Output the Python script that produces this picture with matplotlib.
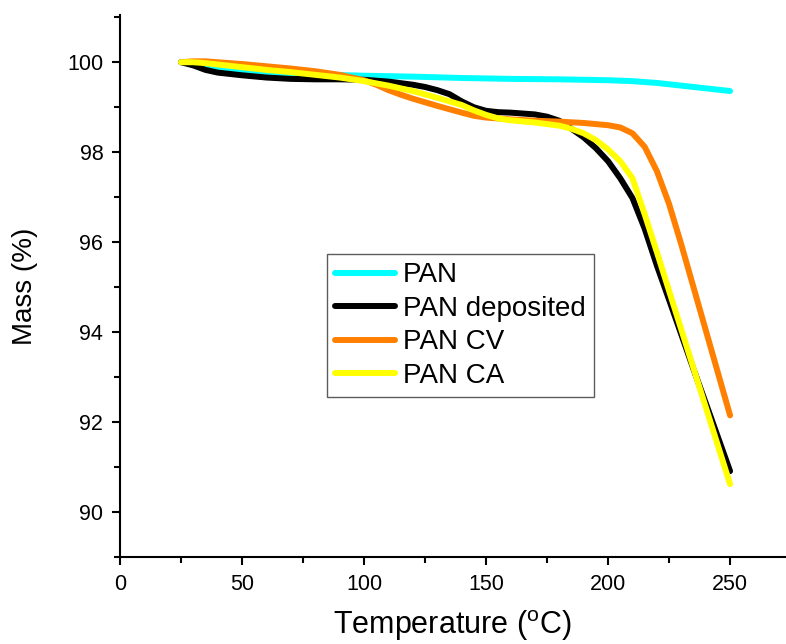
import matplotlib
matplotlib.use("Agg")
import matplotlib.pyplot as plt
from matplotlib.ticker import MultipleLocator

plt.rcParams["font.family"] = ["Liberation Sans", "DejaVu Sans"]
plt.rcParams["mathtext.fontset"] = "custom"
plt.rcParams["mathtext.rm"] = "Liberation Sans"

# TGA curves: temperature (°C) and remaining mass (%)
t_pan = [25, 40, 60, 80, 100, 120, 140, 160, 180, 200, 205, 210, 215, 220,
         225, 230, 235, 240, 245, 250]
m_pan = [100.0, 99.86, 99.77, 99.73, 99.70, 99.68, 99.65, 99.63, 99.62, 99.60,
         99.59, 99.58, 99.56, 99.54, 99.51, 99.48, 99.45, 99.42, 99.39, 99.36]

t_dep = [25, 30, 35, 40, 50, 60, 70, 80, 90, 100, 110, 120, 125, 130, 135, 140,
         145, 150, 155, 160, 170, 175, 180, 185, 190, 195, 200, 205, 210, 215,
         220, 225, 230, 235, 240, 245, 250]
m_dep = [100.0, 99.93, 99.83, 99.77, 99.71, 99.66, 99.63, 99.62, 99.62, 99.61,
         99.57, 99.50, 99.45, 99.38, 99.29, 99.13, 99.00, 98.92, 98.89, 98.88,
         98.84, 98.79, 98.70, 98.52, 98.33, 98.09, 97.80, 97.42, 96.98, 96.30,
         95.48, 94.72, 93.95, 93.18, 92.43, 91.67, 90.91]

t_cv = [25, 30, 35, 40, 50, 60, 70, 80, 90, 100, 105, 110, 115, 120, 130, 140,
        145, 150, 160, 170, 180, 190, 200, 205, 210, 215, 220, 225, 230, 235,
        240, 245, 250]
m_cv = [100.0, 100.02, 100.02, 100.0, 99.96, 99.91, 99.86, 99.80, 99.72, 99.60,
        99.50, 99.38, 99.28, 99.19, 99.03, 98.88, 98.81, 98.77, 98.73, 98.70,
        98.68, 98.65, 98.60, 98.55, 98.42, 98.12, 97.58, 96.85, 95.95, 95.00,
        94.05, 93.10, 92.15]

t_ca = [25, 30, 35, 40, 50, 60, 70, 80, 90, 100, 110, 120, 130, 140, 145, 150,
        155, 160, 170, 180, 185, 190, 195, 200, 205, 210, 215, 220, 225, 230,
        235, 240, 245, 250]
m_ca = [100.0, 100.0, 99.98, 99.95, 99.89, 99.83, 99.78, 99.72, 99.66, 99.58,
        99.48, 99.36, 99.21, 99.05, 98.93, 98.83, 98.75, 98.71, 98.66, 98.59,
        98.52, 98.42, 98.27, 98.06, 97.80, 97.42, 96.62, 95.78, 94.92, 94.06,
        93.20, 92.34, 91.48, 90.62]

series = [
    ("PAN", t_pan, m_pan, "#00FFFF"),
    ("PAN deposited", t_dep, m_dep, "#000000"),
    ("PAN CV", t_cv, m_cv, "#FF8000"),
    ("PAN CA", t_ca, m_ca, "#FFFF00"),
]

fig = plt.figure(figsize=(7.86, 6.44), dpi=100)
ax = fig.add_axes([0.1527, 0.135, 0.8460, 0.8417])

for label, t, m, color in series:
    ax.plot(t, m, color=color, lw=4.3, label=label,
            solid_capstyle="round", solid_joinstyle="round")

ax.set_xlim(0, 272.5)
ax.set_ylim(89, 101.05)

ax.xaxis.set_major_locator(MultipleLocator(50))
ax.xaxis.set_minor_locator(MultipleLocator(25))
ax.yaxis.set_major_locator(MultipleLocator(2))
ax.yaxis.set_minor_locator(MultipleLocator(1))

for side in ("top", "right"):
    ax.spines[side].set_visible(False)
for side in ("left", "bottom"):
    ax.spines[side].set_linewidth(1.5)

ax.tick_params(which="major", direction="out", length=6, width=1.5,
               labelsize=15.5, pad=6)
ax.tick_params(which="minor", direction="out", length=4, width=1.5)

ax.set_xlabel(r"Temperature ($^{\mathrm{o}}$C)", fontsize=22, labelpad=10)
ax.set_ylabel("Mass (%)", fontsize=20, labelpad=21)

leg = ax.legend(loc="upper left", bbox_to_anchor=(0.311, 0.559),
                borderaxespad=0, fontsize=20, frameon=True, fancybox=False,
                edgecolor="#333333", handlelength=2.15, handletextpad=0.3,
                labelspacing=0.27, borderpad=0.3)
leg.get_frame().set_linewidth(1.0)
for line in leg.get_lines():
    line.set_linewidth(4.3)
    line.set_solid_capstyle("round")

fig.savefig("out.png", dpi=100)
